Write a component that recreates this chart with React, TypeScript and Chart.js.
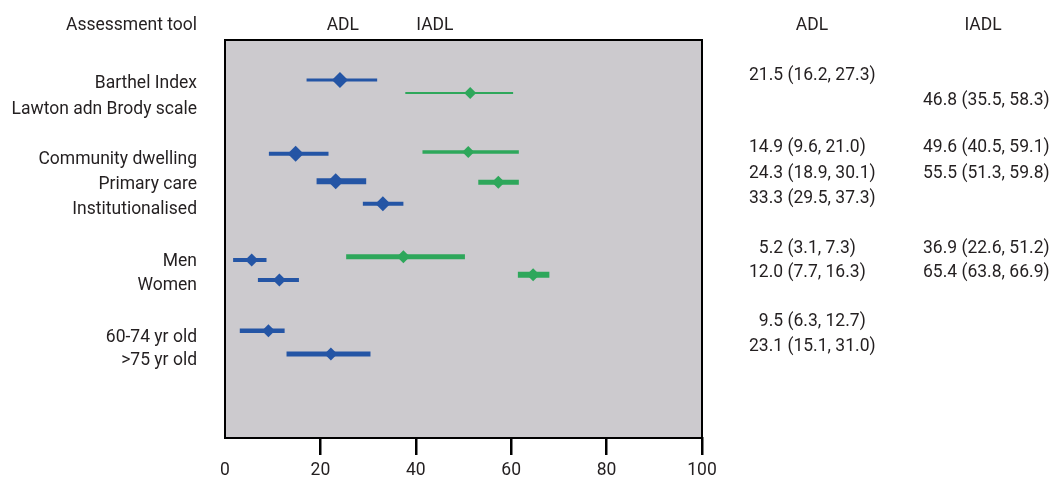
import React, { useEffect, useRef } from 'react';
import { Chart, registerables } from 'chart.js';

Chart.register(...registerables);

// ---------- data ----------
const categories = [
  'Barthel Index',
  'Lawton adn Brody scale',
  'Community dwelling',
  'Primary care',
  'Institutionalised',
  'Men',
  'Women',
  '60-74 yr old',
  '>75 yr old',
];
const categoryRows = [1.67, 2.71, 4.73, 5.73, 6.73, 8.8, 9.76, 11.84, 12.76];

// ADL estimates as drawn in the plot
const adlRows = [1.6, 4.55, 5.65, 6.55, 8.8, 9.6, 11.63, 12.56];
const adlEst = [24.1, 14.8, 23.2, 33.1, 5.6, 11.4, 9.1, 22.2];
const adlLow = [17.1, 9.2, 19.2, 28.9, 1.7, 6.9, 3.1, 12.9];
const adlHigh = [31.9, 21.7, 29.6, 37.4, 8.7, 15.5, 12.5, 30.5];

// IADL estimates as drawn in the plot
const iadlRows = [2.12, 4.48, 5.69, 8.67, 9.39];
const iadlEst = [51.4, 51.0, 57.3, 37.4, 64.6];
const iadlLow = [37.8, 41.4, 53.1, 25.4, 61.4];
const iadlHigh = [60.4, 61.6, 61.6, 50.3, 68.0];

// printed values
const adlTextRows = [1.36, 4.24, 5.27, 6.27, 8.27, 9.24, 11.2, 12.2];
const adlText = [
  '21.5 (16.2, 27.3)',
  '14.9 (9.6, 21.0)',
  '24.3 (18.9, 30.1)',
  '33.3 (29.5, 37.3)',
  '\u20075.2 (3.1, 7.3)',
  '12.0 (7.7, 16.3)',
  '\u20079.5 (6.3, 12.7)',
  '23.1 (15.1, 31.0)',
];
const iadlTextRows = [2.38, 4.24, 5.27, 8.27, 9.24];
const iadlText = [
  '46.8 (35.5, 58.3)',
  '49.6 (40.5, 59.1)',
  '55.5 (51.3, 59.8)',
  '36.9 (22.6, 51.2)',
  '65.4 (63.8, 66.9)',
];

const xTicks = [0, 20, 40, 60, 80, 100];
const headerRow = -0.64;

// ---------- styles ----------
const BLUE = '#2455a5';
const GREEN = '#2ea75b';
const PANEL = '#cccace';
const TEXT = '#231f20';
const FONT = 'Roboto, "Noto Sans", sans-serif';
const FSIZE = 17.5;
const TEXT_DY = 1.5;
const adlLineWidths = [3, 4, 6, 4, 4, 4, 4.5, 5];
const adlMarkerSizes = [8, 8, 8, 7.5, 6.5, 6.5, 6.5, 6.5];
const iadlLineWidths = [2, 3.5, 5, 5, 6];
const iadlMarkerSizes = [6, 6, 6.5, 6.5, 6.5];

const forestPlugin = {
  id: 'forestDecor',
  beforeDraw(chart: any) {
    const { ctx, chartArea: a } = chart;
    ctx.save();
    ctx.fillStyle = PANEL;
    ctx.fillRect(a.left, a.top, a.right - a.left, a.bottom - a.top);
    ctx.restore();
  },
  afterDraw(chart: any) {
    const { ctx, chartArea: a, scales } = chart;
    const x = scales.x;
    const y = scales.y;
    ctx.save();
    ctx.strokeStyle = '#000';
    ctx.lineWidth = 2;
    ctx.beginPath();
    ctx.moveTo(a.left, a.bottom);
    ctx.lineTo(a.left, a.top);
    ctx.lineTo(a.right, a.top);
    ctx.lineTo(a.right, a.bottom);
    ctx.stroke();

    ctx.font = `${FSIZE}px ${FONT}`;
    ctx.fillStyle = TEXT;
    ctx.textBaseline = 'middle';
    const py = (v: number) => y.getPixelForValue(v) + TEXT_DY;

    // left labels
    ctx.textAlign = 'right';
    const hy = py(headerRow);
    ctx.fillText('Assessment tool', a.left - 28, hy);
    categories.forEach((c, i) => {
      ctx.fillText(c, a.left - 28, py(categoryRows[i]));
    });

    // headers above plot
    ctx.textAlign = 'center';
    ctx.fillText('ADL', x.getPixelForValue(24.7), hy);
    ctx.fillText('IADL', x.getPixelForValue(44), hy);
    ctx.fillText('ADL', a.right + 110, hy);
    ctx.fillText('IADL', a.right + 281, hy);

    // printed values
    ctx.textAlign = 'left';
    adlText.forEach((t, i) => {
      ctx.fillText(t, a.right + 47, py(adlTextRows[i]));
    });
    iadlText.forEach((t, i) => {
      ctx.fillText(t, a.right + 221, py(iadlTextRows[i]));
    });
    ctx.restore();
  },
};

export default function App() {
  const ref = useRef<HTMLCanvasElement | null>(null);

  useEffect(() => {
    if (!ref.current) return;
    const datasets: any[] = [];
    adlRows.forEach((r, i) => {
      datasets.push({
        type: 'line',
        data: [
          { x: adlLow[i], y: r },
          { x: adlHigh[i], y: r },
        ],
        borderColor: BLUE,
        borderWidth: adlLineWidths[i],
        borderCapStyle: 'butt',
        pointRadius: 0,
        showLine: true,
        fill: false,
      });
    });
    iadlRows.forEach((r, i) => {
      datasets.push({
        type: 'line',
        data: [
          { x: iadlLow[i], y: r },
          { x: iadlHigh[i], y: r },
        ],
        borderColor: GREEN,
        borderWidth: iadlLineWidths[i],
        borderCapStyle: 'butt',
        pointRadius: 0,
        showLine: true,
        fill: false,
      });
    });
    datasets.push({
      type: 'scatter',
      data: adlRows.map((r, i) => ({ x: adlEst[i], y: r })),
      pointStyle: 'rectRot',
      pointRadius: adlMarkerSizes,
      backgroundColor: BLUE,
      borderWidth: 0,
    });
    datasets.push({
      type: 'scatter',
      data: iadlRows.map((r, i) => ({ x: iadlEst[i], y: r })),
      pointStyle: 'rectRot',
      pointRadius: iadlMarkerSizes,
      backgroundColor: GREEN,
      borderWidth: 0,
    });

    const chart = new Chart(ref.current, {
      type: 'scatter',
      data: { datasets },
      options: {
        animation: false,
        responsive: false,
        maintainAspectRatio: false,
        layout: { padding: { left: 225, right: 347, top: 40, bottom: 0 } },
        plugins: {
          legend: { display: false },
          tooltip: { enabled: false },
        },
        scales: {
          x: {
            type: 'linear',
            min: 0,
            max: 100,
            position: 'bottom',
            afterFit: (s: any) => {
              s.height = 40;
            },
            afterBuildTicks: (s: any) => {
              s.ticks = xTicks.map((v) => ({ value: v }));
            },
            ticks: {
              color: TEXT,
              font: { family: FONT, size: FSIZE },
              padding: 5,
              maxRotation: 0,
              autoSkip: false,
            },
            grid: {
              drawOnChartArea: false,
              drawTicks: true,
              tickLength: 17,
              lineWidth: 2.5,
              color: (c: any) => (c.tick && c.tick.value === 0 ? 'rgba(0,0,0,0)' : '#000'),
            },
            border: { display: true, color: '#000', width: 2 },
          },
          y: {
            type: 'linear',
            min: 0,
            max: 15.92,
            reverse: true,
            display: false,
          },
        },
      },
      plugins: [forestPlugin],
    } as any);
    return () => chart.destroy();
  }, []);

  return (
    <div style={{ position: 'fixed', left: 0, top: 0, width: 1049, height: 478, background: '#fff' }}>
      <canvas ref={ref} width={1049} height={478} style={{ display: 'block' }} />
    </div>
  );
}
